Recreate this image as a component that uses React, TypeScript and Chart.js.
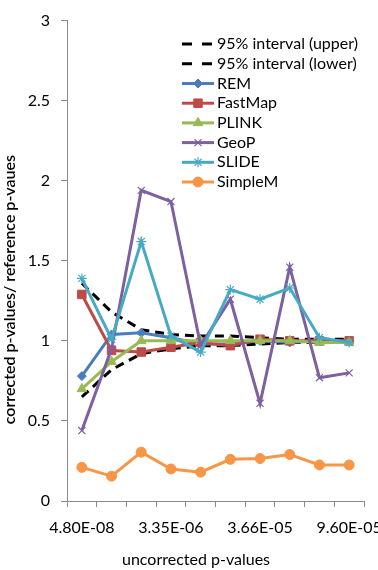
import { useEffect, useRef } from 'react';
import { Chart, registerables } from 'chart.js';
import { drawPoint } from 'chart.js/helpers';

Chart.register(...registerables);

// Uncorrected p-value categories (only every third one carries a printed label)
const categories = ['4.80E-08', '', '', '3.35E-06', '', '', '3.66E-05', '', '', '9.60E-05'];

// Ratio of corrected to reference p-values per method
const upper95 = [1.36, 1.18, 1.07, 1.04, 1.03, 1.03, 1.02, 1.01, 1.01, 1.01];
const lower95 = [0.65, 0.82, 0.92, 0.95, 0.97, 0.97, 0.98, 0.99, 0.99, 0.99];
const rem = [0.78, 1.04, 1.05, 1.02, 0.98, 0.98, 1.0, 0.99, 1.0, 1.0];
const fastMap = [1.29, 0.94, 0.93, 0.96, 0.99, 0.97, 1.01, 1.0, 1.0, 1.0];
const plink = [0.7, 0.87, 1.0, 1.0, 1.0, 1.0, 1.0, 1.0, 0.99, 0.99];
const geoP = [0.44, 0.95, 1.94, 1.87, 0.97, 1.26, 0.61, 1.46, 0.77, 0.8];
const slide = [1.39, 1.01, 1.62, 1.03, 0.93, 1.32, 1.26, 1.33, 1.02, 0.99];
const simpleM = [0.21, 0.155, 0.305, 0.2, 0.18, 0.26, 0.265, 0.29, 0.225, 0.225];

const yMin = 0;
const yMax = 3;
const yStep = 0.5;

const xTitle = 'uncorrected p-values';
const yTitle = 'corrected p-values/ reference p-vaues';

const FONT = 'Lato, "Open Sans", sans-serif';
const AXIS_GREY = '#8a8a8a';

function series(label: string, data: number[], color: string, pointStyle: any, radius: number, thinMarker = false) {
  return {
    label,
    data,
    borderColor: color,
    backgroundColor: color,
    borderWidth: 3,
    pointStyle,
    pointRadius: radius,
    pointBackgroundColor: color,
    pointBorderColor: color,
    pointBorderWidth: thinMarker ? 1.2 : 1,
    tension: 0,
  };
}

function dashed(label: string, data: number[]) {
  return {
    label,
    data,
    borderColor: '#000000',
    backgroundColor: '#000000',
    borderWidth: 3,
    borderDash: [9, 6],
    borderCapStyle: 'butt',
    pointRadius: 0,
    pointBorderWidth: 0,
    tension: 0,
  };
}

// Legend drawn inside the plot area, one entry per row
const insetLegend = {
  id: 'insetLegend',
  afterDraw(chart: any) {
    const { ctx, chartArea } = chart;
    const x0 = chartArea.left + 115;
    const x1 = x0 + 32;
    const top = chartArea.top + 23.5;
    const rowH = 19.7;
    ctx.save();
    chart.data.datasets.forEach((ds: any, i: number) => {
      const y = top + i * rowH;
      ctx.strokeStyle = ds.borderColor;
      ctx.lineWidth = ds.borderWidth;
      ctx.lineCap = 'butt';
      ctx.setLineDash(ds.borderDash ? [10, 10] : []);
      ctx.beginPath();
      ctx.moveTo(x0, y);
      ctx.lineTo(ds.borderDash ? x0 + 30 : x1, y);
      ctx.stroke();
      ctx.setLineDash([]);
      if (ds.pointRadius > 0) {
        ctx.fillStyle = ds.pointBackgroundColor;
        ctx.strokeStyle = ds.pointBorderColor;
        ctx.lineWidth = ds.pointBorderWidth;
        drawPoint(ctx, { pointStyle: ds.pointStyle, radius: ds.pointRadius, borderWidth: ds.pointBorderWidth, rotation: 0 }, (x0 + x1) / 2, y);
      }
      ctx.fillStyle = '#000000';
      ctx.font = `16px ${FONT}`;
      ctx.textAlign = 'left';
      ctx.textBaseline = 'middle';
      ctx.fillText(ds.label, x1 + 3, y);
    });
    ctx.restore();
  },
};

// Axis titles placed relative to the plot area
const axisTitles = {
  id: 'axisTitles',
  afterDraw(chart: any) {
    const { ctx, chartArea } = chart;
    ctx.save();
    ctx.fillStyle = '#000000';
    ctx.textAlign = 'center';
    ctx.textBaseline = 'middle';
    ctx.font = `16px ${FONT}`;
    ctx.fillText(xTitle, chartArea.left + 129, chartArea.bottom + 59);
    ctx.translate(10, chartArea.top + 269);
    ctx.rotate(-Math.PI / 2);
    ctx.font = `600 16px ${FONT}`;
    ctx.fillText(yTitle, 0, 0);
    ctx.restore();
  },
};

export default function App() {
  const canvasRef = useRef<HTMLCanvasElement | null>(null);

  useEffect(() => {
    const canvas = canvasRef.current;
    if (!canvas) return;
    const datasets: any[] = [
      dashed('95% interval (upper)', upper95),
      dashed('95% interval (lower)', lower95),
      series('REM', rem, '#4a7ebb', 'rectRot', 4.5),
      series('FastMap', fastMap, '#be4b48', 'rect', 6),
      series('PLINK', plink, '#98b954', 'triangle', 5.5),
      series('GeoP', geoP, '#7d60a0', 'crossRot', 5, true),
      series('SLIDE', slide, '#46aac5', 'star', 5, true),
      series('SimpleM', simpleM, '#f79646', 'circle', 5),
    ];
    // later series are painted on top of earlier ones
    datasets.forEach((d, i) => (d.order = datasets.length - i));

    const chart = new Chart(canvas, {
      type: 'line',
      data: { labels: categories, datasets },
      options: {
        responsive: false,
        animation: false,
        events: [],
        layout: { padding: { top: 15, right: 36, bottom: 0, left: 0 } },
        plugins: {
          legend: { display: false },
          tooltip: { enabled: false },
        },
        scales: {
          x: {
            type: 'category',
            offset: true,
            grid: { offset: true, drawOnChartArea: false, tickLength: 6, color: AXIS_GREY, lineWidth: 1 },
            border: { color: AXIS_GREY, width: 1 },
            ticks: { autoSkip: false, maxRotation: 0, minRotation: 0, padding: 11, color: '#000000', font: { family: FONT, size: 16 } },
            afterFit: (scale: any) => {
              scale.height = 69;
            },
          },
          y: {
            min: yMin,
            max: yMax,
            grid: { drawOnChartArea: false, tickLength: 6, color: AXIS_GREY, lineWidth: 1 },
            border: { color: AXIS_GREY, width: 1 },
            ticks: {
              stepSize: yStep,
              padding: 11,
              color: '#000000',
              font: { family: FONT, size: 16 },
              callback: (value: any) => String(Number(value)),
            },
            afterFit: (scale: any) => {
              scale.width = 67;
            },
          },
        },
      },
      plugins: [insetLegend, axisTitles],
    } as any);

    return () => chart.destroy();
  }, []);

  return (
    <div style={{ position: 'absolute', left: 0, top: 0, width: 378, height: 570, overflow: 'hidden', background: '#ffffff' }}>
      <canvas ref={canvasRef} width={400} height={570} style={{ display: 'block' }} />
    </div>
  );
}
